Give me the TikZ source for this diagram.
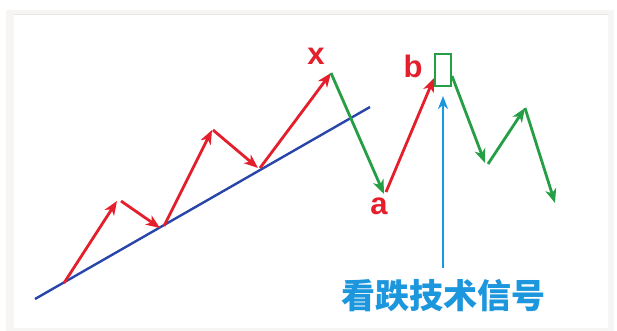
\documentclass[tikz,border=0pt]{standalone}
\usepackage{fontspec}
\setmainfont{Liberation Sans}
\newfontfamily\cjk{Noto Sans CJK SC}
\usetikzlibrary{arrows.meta}
\definecolor{upred}{RGB}{228,30,42}
\definecolor{dngreen}{RGB}{38,158,70}
\definecolor{trendblue}{RGB}{40,70,170}
\definecolor{sigblue}{RGB}{28,150,220}
\definecolor{framegray}{RGB}{232,230,228}
\tikzset{
  wave/.style={line width=2.8pt,-{Stealth[length=14pt,width=11pt,inset=4pt]}},
  upmove/.style={wave,upred},
  downmove/.style={wave,dngreen},
  lbl/.style={font=\bfseries\fontsize{31}{31}\selectfont,text=upred,inner sep=0pt},
}
\begin{document}
\begin{tikzpicture}[x=1pt,y=-1pt]
\useasboundingbox (0,0) rectangle (617,331);
\fill[white] (0,0) rectangle (617,331);
\fill[framegray!40] (6,10) rectangle (614,331);
\fill[white] (14,15) rectangle (608,328);
\draw[framegray,line width=1pt] (14,15) -- (608,15);
% points
\coordinate (p0) at (64,283);
\coordinate (p1) at (117,201);
\coordinate (p1b) at (121,201);
\coordinate (p2) at (160,228);
\coordinate (p2b) at (164,226);
\coordinate (p3) at (212,130);
\coordinate (p3b) at (213,130);
\coordinate (p4) at (258,168);
\coordinate (p4b) at (260,168);
\coordinate (px) at (331,73);
\coordinate (pa) at (384,194);
\coordinate (pab) at (386,192);
\coordinate (pb) at (434,78);
\coordinate (q0) at (452,76);
\coordinate (q1) at (485,163);
\coordinate (q1b) at (488,164);
\coordinate (q2) at (525,108);
\coordinate (q3) at (555,203);
\coordinate (t0) at (35,299);
\coordinate (t1) at (370,107);
\coordinate (sigtop) at (443,96);
% trend line
\draw[trendblue,line width=2.4pt] (t0) -- (t1);
% up waves
\draw[upmove] (p0) -- (p1);
\draw[upmove] (p1b) -- (p2);
\draw[upmove] (p2b) -- (p3);
\draw[upmove] (p3b) -- (p4);
\draw[upmove] (p4b) -- (px);
\draw[downmove] (px) -- (pa);
\draw[upmove] (pab) -- (pb);
% box
\node[draw=dngreen,line width=1.8pt,minimum width=16pt,minimum height=32pt,inner sep=0pt] (box) at (443,70) {};
\draw[downmove] (q0) -- (q1);
\draw[downmove] (q1b) -- (q2);
\draw[downmove] (q2) -- (q3);
% labels
\node[lbl] (lx) at (316,56) {x};
\node[lbl] (la) at (379,206) {a};
\node[lbl] (lb) at (413,66) {b};
% signal
\node[font=\cjk\bfseries\fontsize{34}{34}\selectfont,text=sigblue,inner sep=0pt] (sig) at (443,296) {看跌技术信号};
\draw[sigblue,line width=2.6pt,-{Stealth[length=13pt,width=10pt,inset=4pt]}] (443,268) -- (sigtop);
\end{tikzpicture}
\end{document}
